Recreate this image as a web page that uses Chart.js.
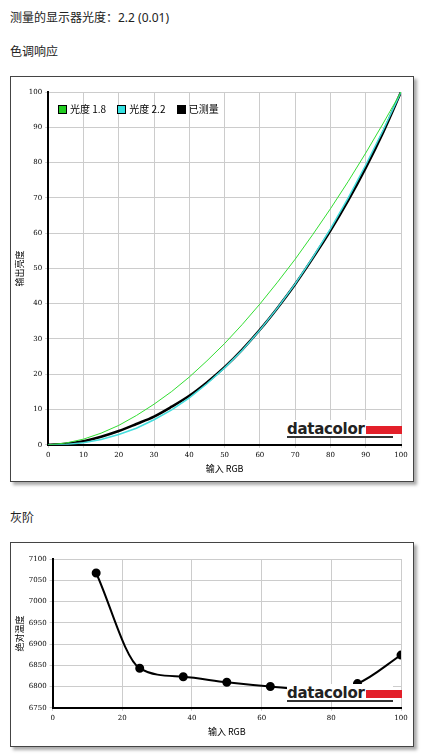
<!DOCTYPE html>
<html><head><meta charset="utf-8">
<script src="https://cdn.jsdelivr.net/npm/chart.js@4"></script>
<style>
body{margin:0;background:#fff;font-family:"Noto Sans","Noto Sans CJK SC",sans-serif;width:425px;height:755px;position:relative;overflow:hidden}
.t{position:absolute;left:10px;font-size:12px;color:#222}
.box{position:absolute;left:10px;width:402px;border:1px solid #444;box-shadow:3px 3px 3px #aaa;background:#fff}
canvas{display:block}
.logo{position:absolute;white-space:nowrap;font:bold 15px "DejaVu Sans",sans-serif;letter-spacing:-0.3px;color:#222;border-bottom:2px solid #333;line-height:14px;padding-top:2px;background:#fff;width:106px}
.logo span{display:inline-block;width:36px;height:8px;background:#e3202a;margin-left:1px}
.lg{position:absolute;left:58px;top:101px;font:10px "Noto Sans CJK SC";color:#000}
.lg i{display:inline-block;width:7px;height:7px;border:1px solid #000;margin:0 3px 0 0;vertical-align:-1px}
</style></head><body>
<div class="t" style="top:8px">测量的显示器光度：2.2 (0.01)</div>
<div class="t" style="top:42px">色调响应</div>
<div class="box" style="top:76px;height:404px"><canvas id="c1" width="402" height="404"></canvas></div>
<div class="t" style="top:508px">灰阶</div>
<div class="box" style="top:542px;height:203px"><canvas id="c2" width="402" height="203"></canvas></div>
<div class="lg"><i style="background:#22cc22"></i>光度 1.8 &nbsp;&nbsp;&nbsp;&nbsp;<i style="background:#33e0e0"></i>光度 2.2 &nbsp;&nbsp;&nbsp;&nbsp;<i style="background:#000"></i>已测量</div>
<div class="logo" style="left:287px;top:420px">datacolor<span></span></div>
<div class="logo" style="left:287px;top:684px">datacolor<span></span></div>
<script>
const inputs=[0,5,10,15,20,25,30,35,40,45,50,55,60,65,70,75,80,85,90,95,100];
const gamma18=[0,0.5,1.6,3.3,5.5,8.3,11.5,15.1,19.2,23.8,28.7,34.1,39.9,46.1,52.6,59.6,66.9,74.6,82.7,91.2,100];
const gamma22=[0,0.1,0.6,1.5,2.9,4.7,7.1,9.9,13.3,17.3,21.8,26.8,32.5,38.8,45.6,53.1,61.2,69.9,79.3,89.3,100];
const measured=[0,0.3,1.0,2.3,3.9,5.9,8.0,10.8,13.9,17.7,22.0,27.0,32.6,38.8,45.5,52.9,60.7,69.2,78.5,88.7,100];
const grayX=[12.5,25,37.5,50,62.5,75,87.5,100];
const grayK=[7067,6843,6823,6810,6800,6793,6807,6874];
const tf={family:"DejaVu Serif",size:7};
const cf={family:"Noto Sans CJK SC",size:9};
function sc(min,max,step,title){return{type:'linear',min,max,ticks:{stepSize:step,font:tf,color:'#000',callback:v=>String(v)},grid:{color:'#ccc',tickLength:3},border:{color:'#000',width:2},title:{display:true,text:title,font:cf,color:'#000',padding:1}}}
new Chart(c1,{type:'line',data:{datasets:[
{data:inputs.map((x,i)=>({x,y:gamma18[i]})),borderColor:'#33dd33',borderWidth:1,pointRadius:0},
{data:inputs.map((x,i)=>({x,y:gamma22[i]})),borderColor:'#44dddd',borderWidth:1.5,pointRadius:0},
{data:inputs.map((x,i)=>({x,y:measured[i]})),borderColor:'#000',borderWidth:2.5,pointRadius:0,cubicInterpolationMode:'monotone'}]},
options:{responsive:false,animation:false,layout:{padding:{top:15,right:12,left:2,bottom:6}},plugins:{legend:{display:false},tooltip:{enabled:false}},
scales:{x:sc(0,100,10,'输入 RGB'),y:sc(0,100,10,'输出亮度')}}});
new Chart(c2,{type:'line',data:{datasets:[
{data:grayX.map((x,i)=>({x,y:grayK[i]})),borderColor:'#000',backgroundColor:'#000',borderWidth:2,pointRadius:3.5,cubicInterpolationMode:'monotone'}]},
options:{responsive:false,animation:false,layout:{padding:{top:16,right:12,left:2,bottom:8}},plugins:{legend:{display:false},tooltip:{enabled:false}},
scales:{x:sc(0,100,20,'输入 RGB'),y:sc(6750,7100,50,'绝对温度')}}});
</script>
</body></html>
